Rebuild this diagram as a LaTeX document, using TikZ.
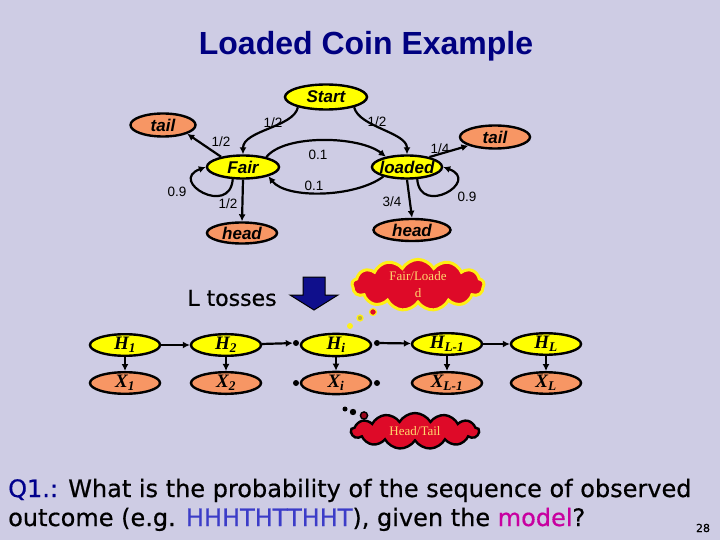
\documentclass[tikz,border=0pt]{standalone}
\usepackage{fontspec}
\setmainfont{Liberation Sans}
\newfontfamily\serifz{Liberation Serif}
\newfontfamily\comic{DejaVu Sans}[FakeBold=0.6]
\usetikzlibrary{shapes.geometric,shapes.symbols,arrows.meta}
\definecolor{bg}{RGB}{206,204,228}
\definecolor{ttl}{RGB}{0,0,128}
\definecolor{yel}{RGB}{255,255,0}
\definecolor{org}{RGB}{247,150,100}
\definecolor{cred}{RGB}{222,10,40}
\definecolor{ctext}{RGB}{255,215,110}
\definecolor{cyel}{RGB}{255,240,20}
\definecolor{barrow}{RGB}{15,15,140}
\definecolor{qblue}{RGB}{0,0,140}
\definecolor{hblue}{RGB}{60,60,200}
\definecolor{mag}{RGB}{200,0,160}
\newcommand{\zb}[1]{\makebox[0pt]{#1}}
\begin{document}
\begin{tikzpicture}[x=1pt,y=-1pt,
  st/.style={ellipse, draw, line width=2.4pt, fill=yel, inner sep=0pt, font=\bfseries\itshape\fontsize{17}{17}\selectfont},
  ob/.style={st, fill=org},
  lab/.style={font=\fontsize{13.5}{13.5}\selectfont, inner sep=0pt},
  arr/.style={line width=2.2pt, -{Latex[length=7pt,width=7pt]}},
  hn/.style={ellipse, draw, line width=2.4pt, fill=yel, minimum width=70pt, minimum height=21pt, inner sep=0pt, font=\serifz\bfseries\itshape\fontsize{19}{19}\selectfont},
  xn/.style={hn, fill=org},
  dotn/.style={circle, fill=black, inner sep=0pt, minimum size=6pt}]
\fill[bg] (0,0) rectangle (720,540);
\useasboundingbox (0,0) rectangle (720,540);

% title
\node[font=\bfseries\fontsize{32}{32}\selectfont, text=ttl] (title) at (366,46) {Loaded Coin Example};

% top HMM diagram
\node[st, minimum width=82pt, minimum height=25pt] (start) at (326,97) {\zb{Start}};
\node[ob, minimum width=65pt, minimum height=23pt] (tailL) at (163,125) {\zb{tail}};
\node[st, minimum width=72pt, minimum height=23pt] (fair) at (243,167) {\zb{Fair}};
\node[st, minimum width=70pt, minimum height=23pt] (loaded) at (407,167) {\zb{loaded}};
\node[ob, minimum width=70pt, minimum height=23pt] (tailR) at (495,137) {\zb{tail}};
\node[ob, minimum width=70pt, minimum height=21pt] (headL) at (242,233) {\zb{head}};
\node[ob, minimum width=77pt, minimum height=22pt] (headR) at (412,230) {\zb{head}};

\draw[arr] (start.200) .. controls +(-4,20) and +(0,-24) .. (fair.north);
\draw[arr] (start.340) .. controls +(5,20) and +(0,-22) .. (loaded.north);
\draw[arr] (fair.155) -- (tailL.340);
\draw[arr] (fair.south) -- (headL.north);
\draw[arr] (fair.23) .. controls +(18,-23) and +(-27,-21) .. (loaded.154);
\draw[arr] (loaded.202) .. controls +(-28,21) and +(18,23) .. (fair.340);
\draw[arr] (loaded.24) -- (tailR.198);
\draw[arr] (loaded.south) -- (headR.north);
\draw[arr] (fair.230) .. controls +(-3,38) and +(-38,14) .. (fair.west);
\draw[arr] (loaded.310) .. controls +(3,38) and +(38,14) .. (loaded.east);

\node[lab] (l1) at (273,123) {1/2};
\node[lab] (l2) at (377,122) {1/2};
\node[lab] (l3) at (221,142) {1/2};
\node[lab] (l4) at (318,155) {0.1};
\node[lab] (l5) at (314,186) {0.1};
\node[lab] (l6) at (440,149) {1/4};
\node[lab] (l7) at (177,192) {0.9};
\node[lab] (l8) at (228,204) {1/2};
\node[lab] (l9) at (392,202) {3/4};
\node[lab] (l10) at (467,197) {0.9};

% L tosses and block arrow
\node[font=\comic\fontsize{22}{22}\selectfont, inner sep=0pt] (ltoss) at (232,298) {L tosses};
\draw[line width=1pt, fill=barrow] (303,277) -- (325,277) -- (325,295) -- (338,295) -- (314,310) -- (290,295) -- (303,295) -- cycle;

% thought cloud top
\node[cloud, cloud puffs=13, cloud puff arc=120, aspect=3, draw=cyel, line width=3pt, fill=cred,
  minimum width=132pt, minimum height=44pt, inner sep=0pt, text=ctext, align=center,
  font=\serifz\fontsize{13}{17}\selectfont] (c1) at (418,285) {Fair/Loade\\d};
\draw[cyel, line width=1.2pt, fill=cred] (373,312) circle[radius=3.5pt];
\draw[cyel, line width=1.2pt, fill=yellow!70!black] (360,318) circle[radius=3pt];
\fill[cyel] (350,326) circle[radius=3pt];

% chain
\node[hn] (h1) at (125,345) {\zb{H\textsubscript{1}}};
\node[hn] (h2) at (226,345) {\zb{H\textsubscript{2}}};
\node[hn] (hi) at (336,345) {\zb{H\textsubscript{i}}};
\node[hn] (hl1) at (447,344) {\zb{H\textsubscript{L-1}}};
\node[hn] (hl) at (546,344) {\zb{H\textsubscript{L}}};
\node[xn] (x1) at (125,383) {\zb{X\textsubscript{1}}};
\node[xn] (x2) at (226,383) {\zb{X\textsubscript{2}}};
\node[xn] (xi) at (336,383) {\zb{X\textsubscript{i}}};
\node[xn] (xl1) at (447,383) {\zb{X\textsubscript{L-1}}};
\node[xn] (xl) at (546,383) {\zb{X\textsubscript{L}}};
\node[dotn] (d1) at (296,343) {};
\node[dotn] (d2) at (377,343) {};
\node[dotn] (d3) at (296,383) {};
\node[dotn] (d4) at (377,383) {};

\draw[arr] (h1) -- (h2);
\draw[arr] (h2) -- (d1);
\draw[arr] (d2) -- (hl1);
\draw[arr] (hl1) -- (hl);
\foreach \a/\b in {h1/x1,h2/x2,hi/xi,hl1/xl1,hl/xl}
  \draw[arr] (\a) -- (\b);

% thought cloud bottom
\fill (345,409) circle[radius=2.5pt];
\fill (353,412) circle[radius=3.2pt];
\draw[line width=1.4pt, fill=cred!70!black] (364,415.5) circle[radius=3.6pt];
\node[cloud, cloud puffs=13, cloud puff arc=120, aspect=3.6, draw=black, line width=2.4pt, fill=cred,
  minimum width=128pt, minimum height=36pt, inner sep=0pt, text=ctext,
  font=\serifz\fontsize{13}{15}\selectfont] (c2) at (415,431) {Head/Tail};

% question text
\node[anchor=base west, inner sep=0pt, font=\comic\fontsize{24}{24}\selectfont] (q1) at (8,497)
  {\textcolor{qblue}{Q1.:} What is the probability of the sequence of observed};
\node[anchor=base west, inner sep=0pt, font=\comic\fontsize{24}{24}\selectfont] (q2) at (8,526)
  {outcome (e.g. \textcolor{hblue}{HHHTHTTHHT}), given the \textcolor{mag}{model}?};
\node[anchor=base, inner sep=0pt, font=\comic\fontsize{11}{11}\selectfont] (pg) at (703,532) {28};
\end{tikzpicture}
\end{document}
